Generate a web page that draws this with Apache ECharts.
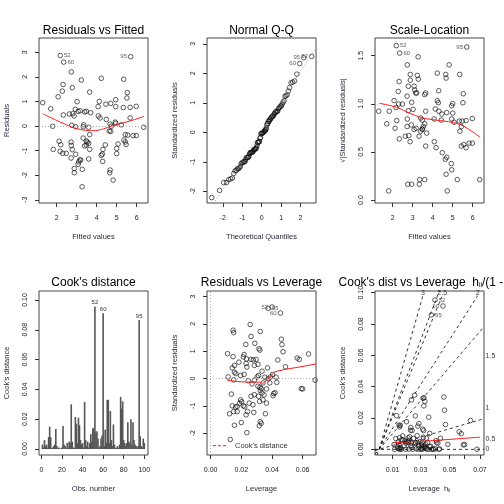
<!DOCTYPE html>
<html><head><meta charset="utf-8">
<script src="https://cdn.jsdelivr.net/npm/echarts@6/dist/echarts.min.js"></script>
<style>html,body{margin:0;padding:0;background:#fff}#c{width:504px;height:504px}</style>
</head><body><div id="c"></div>
<script>
// ---------------- data ----------------
// observation ids of the first three observations (largest residuals / Cook's distances)
const obsIds = ['52', '60', '95'];
const fitted = [2.18,2.35,5.70,2.73,2.32,2.78,3.23,4.23,5.35,3.65,
2.28,5.53,2.07,5.51,3.02,1.30,4.13,4.46,4.70,4.95,
4.07,4.95,5.33,5.67,5.98,1.70,2.33,2.63,2.80,2.93,
3.07,2.87,3.17,3.40,3.48,3.70,4.08,4.17,4.48,4.93,
4.95,5.67,2.75,2.95,3.35,3.33,3.60,1.80,4.67,4.73,
5.23,6.35,4.70,3.32,3.65,5.43,5.55,5.82,5.98,5.36,
5.43,5.47,2.12,2.20,2.72,2.73,2.78,3.53,3.60,3.48,
3.40,3.65,4.43,4.31,5.07,5.00,5.00,1.83,2.17,2.30,
2.48,2.95,2.72,3.15,3.10,3.20,3.60,4.28,4.30,2.88,
2.88,3.28,4.67,4.65,4.82,3.27,3.07,4.23,4.63,3.48];
const residuals = [2.87,2.60,2.82,2.20,1.69,1.56,1.87,1.94,1.90,1.38,
1.42,1.36,1.19,1.14,0.99,0.95,1.00,0.89,0.92,1.07,
0.79,0.79,0.75,0.76,0.80,0.70,0.45,0.49,0.50,0.68,
0.60,0.41,0.62,0.57,0.60,0.54,0.41,0.33,0.27,0.16,
0.11,0.33,0.03,-0.03,0.05,-0.03,-0.05,-0.01,0.08,-0.01,
0.05,-0.05,-0.22,-0.49,-0.35,-0.35,-0.37,-0.39,-0.39,-0.57,
-0.65,-0.75,-0.62,-0.76,-0.65,-0.79,-0.96,-0.65,-0.70,-0.77,
-0.81,-0.95,-0.77,-0.95,-0.73,-0.91,-1.12,-0.95,-1.03,-1.11,
-1.11,-1.15,-1.30,-1.38,-1.46,-1.38,-1.34,-1.14,-1.44,-1.73,
-1.90,-1.76,-1.79,-1.90,-2.20,-2.47,-1.56,-1.19,-0.20,-0.61];
const residSigma = 1.115;   // residual standard error (resid / std. resid)

const leverage = [0.0400,0.0455,0.0375,0.0270,0.0146,0.0150,0.0258,0.0263,0.0323,0.0229,
0.0288,0.0315,0.0321,0.0461,0.0465,0.0472,0.0110,0.0146,0.0218,0.0213,
0.0234,0.0231,0.0184,0.0155,0.0141,0.0155,0.0164,0.0195,0.0218,0.0236,
0.0263,0.0278,0.0296,0.0285,0.0308,0.0335,0.0371,0.0438,0.0488,0.0564,
0.0578,0.0638,0.0681,0.0114,0.0150,0.0245,0.0285,0.0303,0.0312,0.0353,
0.0375,0.0389,0.0404,0.0427,0.0431,0.0386,0.0341,0.0308,0.0321,0.0330,
0.0323,0.0364,0.0335,0.0348,0.0341,0.0364,0.0312,0.0319,0.0591,0.0600,
0.0411,0.0420,0.0407,0.0135,0.0195,0.0202,0.0189,0.0173,0.0213,0.0222,
0.0251,0.0263,0.0285,0.0276,0.0240,0.0231,0.0281,0.0357,0.0200,0.0155,
0.0236,0.0128,0.0323,0.0330,0.0317,0.0173,0.0162,0.0150,0.0123,0.0141];
const stdResLev = [2.62,2.40,2.57,-0.20,1.77,1.68,1.98,1.54,1.72,1.25,
1.29,1.09,1.04,1.44,1.24,0.98,0.91,0.80,0.88,0.79,
0.72,0.55,0.60,0.48,0.39,0.23,0.18,0.11,0.15,0.42,
0.70,0.68,0.70,0.48,0.52,0.27,0.39,0.68,0.43,0.75,
0.70,0.90,-0.06,0.06,-0.05,-0.08,-0.06,0.06,0.11,0.05,
-0.01,0.06,0.15,0.05,-0.14,-0.16,-0.16,-0.28,-0.32,-0.37,
-0.44,-0.38,-0.53,-0.60,-0.78,-0.90,-0.65,-0.84,-0.37,-0.38,
-0.55,-0.52,-0.63,-0.57,-0.78,-0.85,-0.91,-1.02,-1.00,-1.03,
-0.90,-0.65,-0.59,-0.96,-1.21,-1.33,-1.24,-1.29,-1.61,-1.71,
-1.98,-2.23,-1.58,-1.64,-1.73,-1.21,-1.05,-1.21,-1.29,-1.00];
const nCoef = 3;

// Cook's distance by observation number 1..100
const cooksD = [0.003,0.001,0.006,0.002,0.003,0.001,0.008,0.015,0.008,0.0003,
0.001,0.002,0.003,0.0135,0.002,0.0005,0.001,0.0002,0.0005,0.001,
0.0155,0.003,0.002,0.0005,0.004,0.001,0.005,0.004,0.030,0.005,
0.001,0.0005,0.0215,0.017,0.004,0.021,0.016,0.006,0.003,0.004,
0.001,0.0316,0.006,0.002,0.005,0.001,0.004,0.010,0.005,0.014,
0.014,0.0954,0.011,0.012,0.007,0.001,0.002,0.007,0.009,0.091,
0.002,0.013,0.004,0.033,0.033,0.004,0.0255,0.006,0.002,0.0165,
0.003,0.0005,0.001,0.002,0.0005,0.003,0.035,0.027,0.032,0.006,
0.004,0.002,0.004,0.018,0.005,0.004,0.020,0.003,0.018,0.006,
0.003,0.002,0.001,0.002,0.0865,0.0085,0.002,0.001,0.007,0.004];

// theoretical normal quantiles, n = 100
const theoQ = [-2.576,-2.170,-1.960,-1.812,-1.695,-1.598,-1.514,-1.440,-1.372,-1.311,
-1.254,-1.200,-1.150,-1.103,-1.058,-1.015,-0.974,-0.935,-0.896,-0.860,
-0.824,-0.789,-0.755,-0.722,-0.690,-0.659,-0.628,-0.598,-0.568,-0.539,
-0.510,-0.482,-0.454,-0.426,-0.399,-0.372,-0.345,-0.319,-0.292,-0.266,
-0.240,-0.215,-0.189,-0.164,-0.138,-0.113,-0.088,-0.063,-0.038,-0.013,
0.013,0.038,0.063,0.088,0.113,0.138,0.164,0.189,0.215,0.240,
0.266,0.292,0.319,0.345,0.372,0.399,0.426,0.454,0.482,0.510,
0.539,0.568,0.598,0.628,0.659,0.690,0.722,0.755,0.789,0.824,
0.860,0.896,0.935,0.974,1.015,1.058,1.103,1.150,1.200,1.254,
1.311,1.372,1.440,1.514,1.598,1.695,1.812,1.960,2.170,2.576];
const qqIntercept = 0.065, qqSlope = 1.0;

// smoother curves
const smoothFitX = [1.30,1.73,2.32,2.90,3.32,3.82,4.23,4.65,5.15,5.65,6.36];
const smoothFitY = [0.50,0.33,0.11,-0.08,-0.16,-0.19,-0.14,-0.03,0.09,0.20,0.39];
const smoothScaleX = [1.33,2.20,2.87,3.45,3.87,4.53,5.03,5.53,6.37];
const smoothScaleY = [1.005,0.963,0.90,0.856,0.839,0.821,0.804,0.77,0.652];
const smoothLevX = [0.0108,0.0173,0.0240,0.0319,0.0340,0.0380,0.0415,0.0480,0.0577,0.0685];
const smoothLevY = [-0.06,-0.11,-0.13,-0.13,-0.18,0.02,0.24,0.33,0.42,0.53];
const smoothCookX = [0.0105,0.0400,0.0753];
const smoothCookY = [0.0042,0.0056,0.0078];

// contour levels for Cook's dist vs leverage
const cookLevels = [0, 0.5, 1, 1.5, 2, 2.5, 3];

// tick values / labels
const p1XTicks = [2,3,4,5,6], p1YTicks = [-3,-2,-1,0,1,2,3];
const p2XTicks = [-2,-1,0,1,2], p2YTicks = [-2,-1,0,1,2,3];
const p3YTicks = [0,0.5,1,1.5], p3YLabels = ['0.0','0.5','1.0','1.5'];
const p4XTicks = [0,20,40,60,80,100];
const cookYTicks = [0,0.02,0.04,0.06,0.08,0.10], cookYLabels = ['0.00','0.02','0.04','0.06','0.08','0.10'];
const p5XTicks = [0,0.02,0.04,0.06], p5XLabels = ['0.00','0.02','0.04','0.06'];
const p5YTicks = [-2,-1,0,1,2,3];
const p6HTicks = [0.01,0.02,0.03,0.04,0.05,0.06,0.07];
const p6HLabels = [0.01,0.03,0.05,0.07];

// ---------------- layout ----------------
const FONT = '"Liberation Sans", Arial, Helvetica, sans-serif';
const BW = 109;
const boxes = [
  {l:39,  t:38,  h:165}, {l:207, t:38,  h:165}, {l:375, t:38,  h:165},
  {l:39,  t:291, h:164}, {l:207, t:291, h:164}, {l:375, t:291, h:164}
];
const ranges = [
  {x:[1.115,6.565], y:[-3.13,3.58]},
  {x:[-2.82,2.80],  y:[-2.40,3.20]},
  {x:[1.115,6.565], y:[-0.031,1.684]},
  {x:[-2.35,103.6], y:[-0.004,0.106]},
  {x:[-0.0024,0.0687], y:[-2.80,3.205]},
  {x:[-0.0031,0.0783], y:[-0.0036,0.1011]}
];

function fmtFinder(vals, strs) {
  return v => { for (let k = 0; k < vals.length; k++) if (Math.abs(vals[k]-v) < 1e-9) return strs[k]; return ''; };
}
function mkAxis(gi, isY, range, tickVals, labelVals, labelStrs, name, gap, nameRich) {
  const ax = {
    type:'value', gridIndex:gi, min:range[0], max:range[1], position: isY ? 'left' : 'bottom',
    axisLine:{show:false, onZero:false}, splitLine:{show:false},
    axisTick:{show:true, length:4, customValues:tickVals, lineStyle:{color:'#333', width:1}},
    axisLabel:{show:true, customValues:labelVals, formatter:fmtFinder(labelVals, labelStrs),
      fontSize:7, color:'#1a1a1a', fontFamily:FONT, margin: isY ? 10 : 12, rotate: isY ? 90 : 0},
    name:name, nameLocation:'middle', nameGap:gap,
    nameTextStyle:{fontSize:7.5, color:'#2a2a3a', fontFamily:FONT}
  };
  if (nameRich) ax.nameTextStyle.rich = nameRich;
  return ax;
}
const str = a => a.map(v => String(v));

const grids = boxes.map(b => ({left:b.l, top:b.t, width:BW, height:b.h, show:true,
  borderColor:'#444', borderWidth:1, outerBoundsMode:'none'}));

const subRich = {s:{fontSize:5, fontFamily:FONT, color:'#2a2a3a', verticalAlign:'bottom', padding:[3,0,0,0]}};
const g6 = p6HTicks.map(h => h/(1-h));
const g6L = p6HLabels.map(h => h/(1-h));

const xAxes = [
  mkAxis(0,false,ranges[0].x,p1XTicks,p1XTicks,str(p1XTicks),'Fitted values',30),
  mkAxis(1,false,ranges[1].x,p2XTicks,p2XTicks,str(p2XTicks),'Theoretical Quantiles',30),
  mkAxis(2,false,ranges[2].x,p1XTicks,p1XTicks,str(p1XTicks),'Fitted values',30),
  mkAxis(3,false,ranges[3].x,p4XTicks,p4XTicks,str(p4XTicks),'Obs. number',30),
  mkAxis(4,false,ranges[4].x,p5XTicks,p5XTicks,p5XLabels,'Leverage',30),
  mkAxis(5,false,ranges[5].x,g6,g6L,p6HLabels.map(v=>v.toFixed(2)),'Leverage  h{s|ii}',30,subRich)
];
const yAxes = [
  mkAxis(0,true,ranges[0].y,p1YTicks,p1YTicks,str(p1YTicks),'Residuals',28),
  mkAxis(1,true,ranges[1].y,p2YTicks,p2YTicks,str(p2YTicks),'Standardized residuals',28),
  mkAxis(2,true,ranges[2].y,p3YTicks,p3YTicks,p3YLabels,'\u221A|Standardized residuals|',28),
  mkAxis(3,true,ranges[3].y,cookYTicks,cookYTicks,cookYLabels,"Cook's distance",28),
  mkAxis(4,true,ranges[4].y,p5YTicks,p5YTicks,str(p5YTicks),'Standardized residuals',28),
  mkAxis(5,true,ranges[5].y,cookYTicks,cookYTicks,cookYLabels,"Cook's distance",28)
];

// ---------------- series ----------------
const ptStyle = {color:'rgba(0,0,0,0)', borderColor:'#111', borderWidth:0.85};
const idLabelStyle = {fontSize:6, color:'#333', fontFamily:FONT, distance:1};
function scatterData(xs, ys, ids) {
  const mid = (Math.min(...xs) + Math.max(...xs)) / 2;
  return xs.map((x,i) => {
    const it = {value:[x, ys[i]]};
    if (ids[i]) it.label = Object.assign({show:true, formatter:ids[i], position: x > mid ? 'left' : 'right'}, idLabelStyle);
    return it;
  });
}
function scatter(gi, data, extra) {
  return Object.assign({type:'scatter', xAxisIndex:gi, yAxisIndex:gi, symbol:'circle', symbolSize:4.6,
    itemStyle:ptStyle, silent:true, data:data, z:3}, extra || {});
}
function line(gi, xs, ys, style, smooth) {
  return {type:'line', xAxisIndex:gi, yAxisIndex:gi, symbol:'none', showSymbol:false, silent:true,
    smooth:smooth || false, clip:true, lineStyle:style, data:xs.map((x,i)=>[x, ys[i]]), z:4};
}
const zeroMark = (extraData) => ({silent:true, symbol:['none','none'], label:{show:false},
  lineStyle:{color:'#aaa', type:[1,2], width:1}, data:[{yAxis:0}].concat(extraData||[])});
const red = {color:'#ff1a1a', width:1};
const ids = fitted.map((_, i) => obsIds[i] || null);

const stdRes = residuals.map(r => r / residSigma);
const order = stdRes.map((v,i)=>i).sort((a,b)=>stdRes[a]-stdRes[b]);
const qqY = order.map(i => stdRes[i]), qqIds = order.map(i => ids[i]);
const sqrtAbs = stdRes.map(v => Math.sqrt(Math.abs(v)));

const gLev = leverage.map(h => h/(1-h));
const cookPts = stdResLev.map((r,i) => r*r*gLev[i]/nCoef);
const levIds = leverage.map((_, i) => obsIds[i] || null);

const topCook = cooksD.map((v,i)=>i).sort((a,b)=>cooksD[b]-cooksD[a]).slice(0,3);
const barData = cooksD.map((v,i) => {
  const it = {value:[i+1, v]};
  if (topCook.includes(i)) it.label = Object.assign({show:true, position:'top', formatter:String(i+1)}, idLabelStyle);
  return it;
});

// contour lines (as R's plot.lm draws them)
const xmin6 = ranges[5].x[0], xmax6 = ranges[5].x[1], ymax6 = ranges[5].y[1];
const sh = 0.002, sw = 0.0012;
const contourSeries = [], contourLabels = [];
cookLevels.forEach(b => {
  const bi2 = b*b;
  if (nCoef*ymax6 > bi2*xmax6) {
    contourSeries.push(line(5, [xmin6, xmax6], [bi2*xmin6, bi2*xmax6], {color:'#000', width:0.8, type:[3,3]}));
    const xi = xmax6 + sw;
    contourLabels.push({value:[xi, bi2*xi/nCoef], label:{show:true, formatter:String(b), position:'right', distance:0, fontSize:7, color:'#000', fontFamily:FONT}});
  } else {
    const yi = ymax6 - 1.5*sh, xi = nCoef*yi/bi2;
    contourSeries.push(line(5, [0, xi], [0, yi], {color:'#000', width:0.8, type:[3,3]}));
    contourLabels.push({value:[xi, ymax6 - 0.8*sh], label:{show:true, formatter:String(b), position:'inside', fontSize:7, color:'#000', fontFamily:FONT}});
  }
});

const series = [
  scatter(0, scatterData(fitted, residuals, ids), {markLine: zeroMark()}),
  line(0, smoothFitX, smoothFitY, red, 0.4),
  scatter(1, scatterData(theoQ, qqY, qqIds)),
  line(1, ranges[1].x, ranges[1].x.map(x => qqIntercept + qqSlope*x), {color:'#999', width:1, type:[1,2]}),
  scatter(2, scatterData(fitted, sqrtAbs, ids)),
  line(2, smoothScaleX, smoothScaleY, red, 0.4),
  {type:'bar', xAxisIndex:3, yAxisIndex:3, barWidth:1.6, itemStyle:{color:'#555'}, silent:true, data:barData},
  scatter(4, scatterData(leverage, stdResLev, levIds), {markLine: zeroMark([{xAxis:0}])}),
  line(4, smoothLevX, smoothLevY, red, false),
  scatter(5, scatterData(gLev, cookPts, levIds)),
  line(5, smoothCookX, smoothCookY, red, 0.3),
  ...contourSeries,
  {type:'scatter', xAxisIndex:5, yAxisIndex:5, symbolSize:0, clip:false, silent:true, data:contourLabels, z:5}
];

// ---------------- titles & legend ----------------
const titles = ['Residuals vs Fitted','Normal Q-Q','Scale-Location',"Cook's distance",'Residuals vs Leverage'];
const graphic = titles.map((t,i) => ({type:'text', x: boxes[i].l + BW/2, y: i < 3 ? 30.5 : 282.5,
  style:{text:t, fontSize:12, fontFamily:FONT, fill:'#000', align:'center', verticalAlign:'middle'}}));
graphic.push({type:'text', x: boxes[5].l + BW/2, y: 282.5,
  style:{text:"Cook's dist vs Leverage  h{s|ii}/(1 - h{s|ii})", fontSize:12, fontFamily:FONT, fill:'#000',
    align:'center', verticalAlign:'middle', rich:{s:{fontSize:7, fontFamily:FONT, fill:'#000', verticalAlign:'bottom'}}}});
graphic.push({type:'line', shape:{x1:213, y1:445.7, x2:228, y2:445.7}, style:{stroke:'#ff1a1a', lineWidth:1, lineDash:[3,2]}});
graphic.push({type:'text', x:235, y:445.7, style:{text:"Cook's distance", fontSize:7.5, fontFamily:FONT, fill:'#333', verticalAlign:'middle'}});

const chart = echarts.init(document.getElementById('c'), null, {renderer:'canvas', width:504, height:504});
chart.setOption({
  animation:false,
  backgroundColor:'#fff',
  textStyle:{fontFamily:FONT},
  grid:grids, xAxis:xAxes, yAxis:yAxes, series:series, graphic:graphic
});
</script></body></html>
